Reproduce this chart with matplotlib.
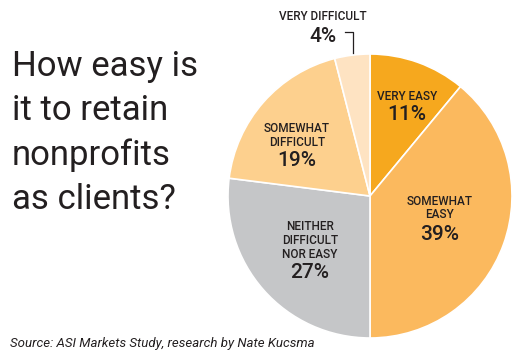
import matplotlib.pyplot as plt

# data
categories = ['VERY EASY', 'SOMEWHAT\nEASY', 'NEITHER\nDIFFICULT\nNOR EASY',
              'SOMEWHAT\nDIFFICULT', 'VERY DIFFICULT']
values = [11, 39, 27, 19, 4]
colors = ['#f6a81e', '#fbb95e', '#c5c6c8', '#fdd08e', '#fee3c2']
# label anchors in pixels from the top-left (gap between name and percent)
label_pos = [(407, 104), (440, 223), (310, 262), (297, 150), (323, 25)]

W, H = 526, 357
fig = plt.figure(figsize=(W / 100, H / 100), dpi=100)
ax = fig.add_axes([0, 0, 1, 1])

cx, cy, R = 370, H - 196, 142
wedges, _ = ax.pie(values, colors=colors, startangle=90, counterclock=False,
                   center=(cx, cy), radius=R, frame=True,
                   wedgeprops=dict(edgecolor='white', linewidth=1.2))
ax.set_xlim(0, W)
ax.set_ylim(0, H)
ax.set_aspect('equal')
ax.axis('off')

font = ['Roboto', 'DejaVu Sans']
for lab, v, (px, py) in zip(categories, values, label_pos):
    ax.text(px, H - py + 1.5, lab, ha='center', va='bottom', fontsize=8.5,
            family=font, fontweight='medium', color='#231f20',
            linespacing=1.05)
    ax.text(px, H - py - 1.5, f'{v}%', ha='center', va='top', fontsize=15,
            family=font, fontweight='medium', color='#231f20')

# leader for the small slice
ax.plot([345, 353, 353], [H - 32, H - 32, H - 53], color='#231f20', lw=0.9)

title = 'How easy is\nit to retain\nnonprofits\nas clients?'
ax.text(12, H - 50, title, ha='left', va='top', fontsize=25,
        family=font, color='#231f20', linespacing=1.43)

ax.text(10, H - 343, 'Source: ASI Markets Study, research by Nate Kucsma',
        ha='left', va='center', fontsize=9.5, style='italic',
        family=font, color='#231f20')

fig.savefig('out.png', dpi=100)
